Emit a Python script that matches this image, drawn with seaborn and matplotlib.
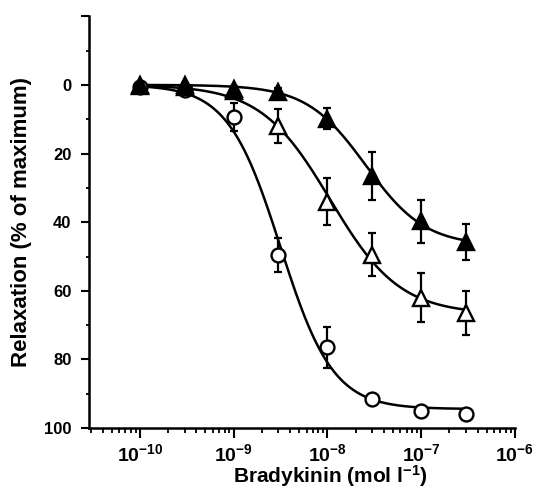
import numpy as np
import pandas as pd
import matplotlib
matplotlib.use("Agg")
import matplotlib.pyplot as plt
import seaborn as sns
from matplotlib.ticker import FixedLocator, FixedFormatter, NullFormatter

# data (relaxation, % of maximum; mean and s.e.)
conc = [1e-10, 3e-10, 1e-9, 3e-9, 1e-8, 3e-8, 1e-7, 3e-7]
control = [0.5, 1.5, 9.4, 49.5, 76.5, 91.5, 95.0, 95.8]
control_err = [0.8, 0.8, 4.0, 5.0, 6.0, 1.2, 1.5, 1.0]
open_tri = [0.0, 0.5, 1.8, 12.0, 34.0, 49.5, 62.0, 66.5]
open_tri_err = [0.5, 0.5, 1.0, 5.0, 6.8, 6.3, 7.2, 6.5]
filled_tri = [0.2, 0.0, 1.2, 2.0, 9.8, 26.5, 39.8, 45.8]
filled_tri_err = [0.5, 0.5, 1.0, 1.0, 3.2, 7.0, 6.3, 5.2]

x_ticks = [1e-10, 1e-9, 1e-8, 1e-7, 1e-6]
x_tick_labels = [r"$10^{-10}$", r"$10^{-9}$", r"$10^{-8}$", r"$10^{-7}$", r"$10^{-6}$"]
y_ticks = [-20, 0, 20, 40, 60, 80, 100]
y_tick_labels = ["", "0", "20", "40", "60", "80", "100"]


def hill_fit(x, y):
    # least-squares fit of y = top / (1 + 10**((logec - logx) * n)), grid search
    lx = np.log10(np.asarray(x))[:, None, None]
    y = np.asarray(y)[:, None, None]
    logec = np.arange(-10.0, -6.0, 0.005)[None, :, None]
    n = np.arange(0.5, 3.0, 0.01)[None, None, :]
    f = 1.0 / (1.0 + 10 ** ((logec - lx) * n))
    top = (f * y).sum(0) / (f * f).sum(0)
    sse = ((y - top[None] * f) ** 2).sum(0)
    i, j = np.unravel_index(np.argmin(sse), sse.shape)
    return logec[0, i, 0], n[0, 0, j], top[i, j]


sns.set_style("ticks")
plt.rcParams["font.family"] = ["Liberation Sans", "DejaVu Sans"]
plt.rcParams["font.weight"] = "bold"
plt.rcParams["text.color"] = "black"
plt.rcParams["axes.labelcolor"] = "black"
plt.rcParams["xtick.color"] = "black"
plt.rcParams["ytick.color"] = "black"
plt.rcParams["axes.edgecolor"] = "black"
plt.rcParams["mathtext.fontset"] = "custom"
plt.rcParams["mathtext.rm"] = "Liberation Sans:bold"
plt.rcParams["mathtext.bf"] = "Liberation Sans:bold"
plt.rcParams["mathtext.default"] = "bf"

fig = plt.figure(figsize=(5.38, 4.91), dpi=100)
ax = fig.add_axes([0.165, 0.128, 0.792, 0.839])

xs = np.logspace(np.log10(conc[0]), np.log10(conc[-1]), 300)
series = [
    (control, control_err, "o", "white", 10),
    (open_tri, open_tri_err, "^", "white", 11),
    (filled_tri, filled_tri_err, "^", "black", 11),
]
for vals, errs, mk, fc, ms in series:
    logec, n, top = hill_fit(conc, vals)
    curve = pd.DataFrame({"x": xs, "y": top / (1 + 10 ** ((logec - np.log10(xs)) * n))})
    sns.lineplot(data=curve, x="x", y="y", ax=ax, color="black", lw=1.8, zorder=2)

for vals, errs, mk, fc, ms in series:
    ax.errorbar(conc, vals, yerr=errs, fmt="none", ecolor="black", elinewidth=1.6,
                capsize=3, capthick=1.6, zorder=3)
    ax.plot(conc, vals, ls="none", marker=mk, ms=ms, mfc=fc, mec="black", mew=1.7, zorder=4)

ax.set_xscale("log")
ax.set_xlim(10 ** -10.545, 1e-6)
ax.set_ylim(100, -20)

ax.xaxis.set_major_locator(FixedLocator(x_ticks))
ax.xaxis.set_major_formatter(FixedFormatter(x_tick_labels))
minor = [m * 10.0 ** e for e in range(-11, -6) for m in range(2, 10)]
ax.xaxis.set_minor_locator(FixedLocator(minor))
ax.xaxis.set_minor_formatter(NullFormatter())
ax.yaxis.set_major_locator(FixedLocator(y_ticks))
ax.yaxis.set_major_formatter(FixedFormatter(y_tick_labels))
ax.yaxis.set_minor_locator(FixedLocator([-10, 10, 30, 50, 70, 90]))

ax.tick_params(axis="y", which="major", length=5.5, width=1.5, labelsize=12, pad=7)
ax.tick_params(axis="y", which="minor", length=2.5, width=1.3)
ax.tick_params(axis="x", which="major", length=7, width=1.5, labelsize=14, pad=4)
ax.tick_params(axis="x", which="minor", length=3.6, width=1.3)
for lab in ax.get_xticklabels() + ax.get_yticklabels():
    lab.set_fontweight("bold")

sns.despine(ax=ax)
for s in ["left", "bottom"]:
    ax.spines[s].set_linewidth(1.8)

ax.set_xlabel(r"Bradykinin (mol l$^{-1}$)", fontsize=15, fontweight="bold", va="baseline")
ax.xaxis.set_label_coords(0.566, -0.133)
ax.set_ylabel("Relaxation (% of maximum)", fontsize=16, fontweight="bold")
ax.yaxis.set_label_coords(-0.134, 0.5)

fig.savefig("out.png", dpi=100)
